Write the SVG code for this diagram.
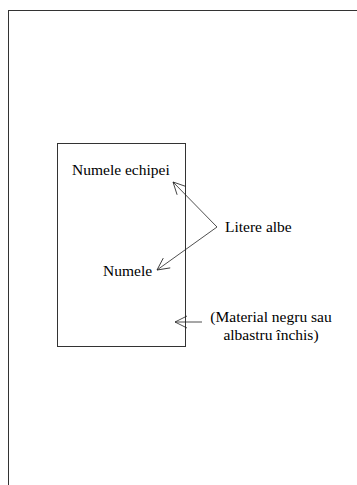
<svg xmlns="http://www.w3.org/2000/svg" width="357" height="485" viewBox="0 0 357 485">
<style>
text{font-family:"Liberation Serif","Times New Roman",serif;font-size:15.5px;fill:#000}
.frame{fill:none;stroke:#333;stroke-width:1}
.conn{fill:none;stroke:#222;stroke-width:0.8}
</style>
<defs>
<marker id="arr" viewBox="-14 -8 16 16" markerWidth="16" markerHeight="16" refX="0" refY="0" markerUnits="userSpaceOnUse" orient="auto" overflow="visible">
<path d="M-12,-6 L0,0 L-12,6" fill="none" stroke="#222" stroke-width="0.8"/>
</marker>
</defs>
<rect width="357" height="485" fill="#fff"/>
<g id="page"><rect class="frame" x="8.5" y="10.5" width="400" height="500"/></g>
<g id="shirt">
<rect class="frame" x="57.5" y="143.5" width="128" height="203"/>
</g>
<g id="team-name"><text x="72" y="175">Numele echipei</text></g>
<g id="name"><text x="103" y="276">Numele</text></g>
<g id="label-letters"><text x="225" y="232">Litere albe</text></g>
<g id="label-material">
<text x="271" y="322" text-anchor="middle">(Material negru sau</text>
<text x="271" y="340" text-anchor="middle">albastru închis)</text>
</g>
<g id="connectors">
<line class="conn" x1="217" y1="227" x2="173" y2="182" marker-end="url(#arr)"/>
<line class="conn" x1="217" y1="227" x2="157" y2="270" marker-end="url(#arr)"/>
<line class="conn" x1="202" y1="322" x2="175" y2="322" marker-end="url(#arr)"/>
</g>
</svg>
